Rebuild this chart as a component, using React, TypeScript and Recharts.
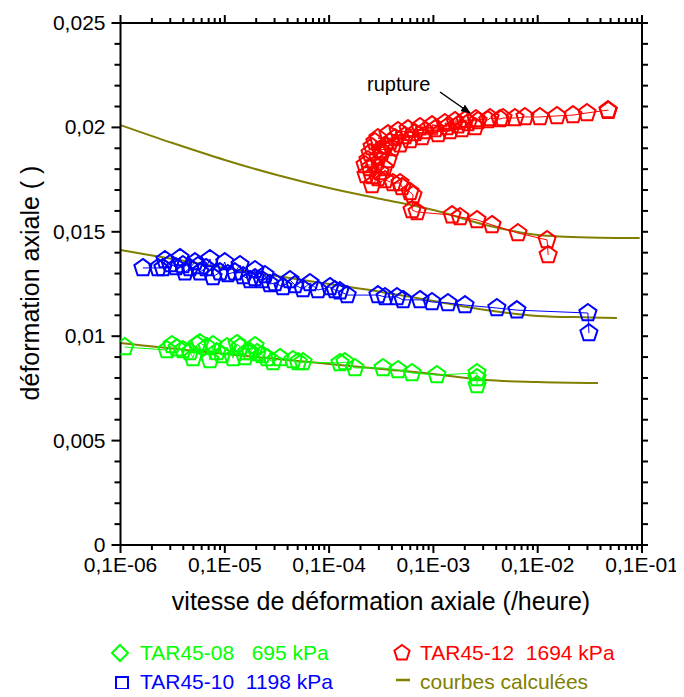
import React from "react";
import { ComposedChart, Scatter, Line, XAxis, YAxis } from "recharts";

const FONT = "'Liberation Sans', Arial, Helvetica, sans-serif";

// TAR45-08 (695 kPa)
const tar08Rate = [2.62e-4, 2.62e-4, 2.62e-4, 1.08e-4, 6.24e-5, 4.58e-5, 3.29e-5, 1.77e-5, 1.42e-5, 1.27e-5, 5.62e-6, 5.04e-6, 4.51e-6, 3.38e-6, 2.9e-6, 2.54e-6, 2.28e-6, 2.04e-6, 1.95e-6, 1.75e-6, 1.63e-6, 1.56e-6, 1.4e-6, 1.31e-6, 1.2e-6, 1.05e-6, 9.4e-7, 8.41e-7, 7.71e-7, 7.21e-7, 6.76e-7, 5.78e-7, 5.41e-7, 4.95e-7, 4.63e-7, 3.97e-7, 3.48e-7, 3.12e-7, 2.79e-7, 1.1e-7];
const tar08Strain = [0.00766, 0.0080, 0.00824, 0.00814, 0.00824, 0.00838, 0.00848, 0.00848, 0.00876, 0.00872, 0.00876, 0.00876, 0.00886, 0.00896, 0.00876, 0.00896, 0.0091, 0.0092, 0.00953, 0.00924, 0.00924, 0.009, 0.00948, 0.00963, 0.00896, 0.00948, 0.0091, 0.00924, 0.00958, 0.00886, 0.00948, 0.00967, 0.00958, 0.00896, 0.00924, 0.00934, 0.00943, 0.00958, 0.00934, 0.00948];

// TAR45-10 (1198 kPa)
const tar10Rate = [3.1e-3, 3.03e-3, 6.32e-4, 4.06e-4, 2.01e-4, 1.38e-4, 9.7e-5, 7.45e-5, 5.12e-5, 4.48e-5, 3.44e-5, 2.94e-5, 1.49e-5, 1.27e-5, 1.14e-5, 1.02e-5, 7.83e-6, 6.56e-6, 5.62e-6, 4.71e-6, 4.22e-6, 3.61e-6, 3.03e-6, 2.71e-6, 2.43e-6, 2.28e-6, 1.95e-6, 1.95e-6, 1.75e-6, 1.5e-6, 1.4e-6, 1.25e-6, 1.07e-6, 1.0e-6, 9.0e-7, 7.71e-7, 7.21e-7, 6.61e-7, 5.78e-7, 5.53e-7, 5.18e-7, 4.63e-7, 4.15e-7, 3.97e-7, 3.72e-7, 3.4e-7, 2.99e-7, 2.67e-7, 2.55e-7, 2.29e-7, 1.64e-7];
const tar10Strain = [0.01015, 0.01111, 0.01125, 0.01135, 0.01149, 0.01159, 0.01164, 0.01174, 0.01174, 0.01188, 0.01188, 0.01197, 0.01197, 0.01216, 0.01221, 0.01236, 0.01221, 0.01255, 0.01226, 0.01245, 0.01269, 0.01236, 0.01255, 0.0125, 0.01293, 0.01269, 0.01279, 0.01317, 0.01269, 0.01288, 0.01341, 0.01307, 0.01298, 0.01355, 0.01307, 0.01284, 0.0137, 0.01327, 0.01307, 0.01336, 0.01355, 0.01327, 0.01307, 0.01341, 0.01375, 0.01331, 0.01346, 0.01365, 0.01327, 0.01327, 0.01327];

// TAR45-12 (1694 kPa)
const tar12Rate = [1.26e-3, 1.23e-3, 6.47e-4, 3.65e-4, 2.62e-4, 1.8e-4, 1.51e-4, 6.97e-5, 6.24e-5, 6.37e-5, 5.97e-5, 5.0e-5, 4.79e-5, 4.1e-5, 3.44e-5, 2.58e-5, 2.94e-5, 2.26e-5, 2.58e-5, 3.08e-5, 3.36e-5, 2.47e-5, 2.21e-5, 2.75e-5, 3.67e-5, 2.36e-5, 2.94e-5, 2.47e-5, 3.21e-5, 3.08e-5, 4.01e-5, 2.58e-5, 3.44e-5, 4.79e-5, 2.75e-5, 3.84e-5, 5.97e-5, 2.94e-5, 4.29e-5, 7.78e-5, 3.67e-5, 5.35e-5, 1.11e-4, 4.58e-5, 6.67e-5, 1.44e-4, 5.71e-5, 8.32e-5, 1.88e-4, 7.45e-5, 1.04e-4, 2.51e-4, 9.7e-5, 1.35e-4, 1.29e-4, 1.72e-4, 1.61e-4, 2.15e-4, 2.01e-4, 2.68e-4, 2.56e-4, 3.33e-4, 3.49e-4, 4.35e-4, 4.65e-4, 6.05e-4, 7.55e-4, 1.05e-3, 1.53e-3, 2.18e-3, 2.97e-3, 4.72e-3, 4.75e-3];
const tar12Strain = [0.01389, 0.01461, 0.01494, 0.01533, 0.01557, 0.01571, 0.0158, 0.01595, 0.01604, 0.01676, 0.01691, 0.01715, 0.01734, 0.01734, 0.01748, 0.01724, 0.01758, 0.01772, 0.01767, 0.01786, 0.01806, 0.01806, 0.0182, 0.0182, 0.01844, 0.01844, 0.01853, 0.01877, 0.01882, 0.01892, 0.01901, 0.01906, 0.01911, 0.0192, 0.0193, 0.0193, 0.0194, 0.01949, 0.01949, 0.01954, 0.01968, 0.01959, 0.01968, 0.01983, 0.01973, 0.01983, 0.01992, 0.01983, 0.01992, 0.02002, 0.01992, 0.02002, 0.02011, 0.02002, 0.02021, 0.02011, 0.02031, 0.02021, 0.02035, 0.02031, 0.0204, 0.02035, 0.02045, 0.0204, 0.02045, 0.02045, 0.0205, 0.0205, 0.02055, 0.02059, 0.02069, 0.02083, 0.0208];

// courbes calculées
const fitRate = [1e-7, 3.16e-7, 1e-6, 3.16e-6, 1e-5, 3.16e-5, 1e-4, 3.16e-4, 1e-3, 3.16e-3];
const fit12End = 9.5e-3;
const fit10End = 5.75e-3;
const fit08End = 3.79e-3;
const fit12Strain = [0.02011, 0.01925, 0.01844, 0.01772, 0.0171, 0.01657, 0.01604, 0.01533, 0.01485, 0.01473, 0.0147];
const fit10Strain = [0.01413, 0.0137, 0.01327, 0.01288, 0.0125, 0.01212, 0.01169, 0.01125, 0.01097, 0.0109, 0.01087];
const fit08Strain = [0.00967, 0.00941, 0.00915, 0.00891, 0.00867, 0.00843, 0.00819, 0.0079, 0.00781, 0.00776];

const xMajorTicks = [1e-7, 1e-6, 1e-5, 1e-4, 1e-3, 1e-2];
const xTickLabels = ["0,1E-06", "0,1E-05", "0,1E-04", "0,1E-03", "0,1E-02", "0,1E-01"];
const yMajorTicks = [0, 0.005, 0.01, 0.015, 0.02, 0.025];
const yTickLabels = ["0", "0,005", "0,01", "0,015", "0,02", "0,025"];

const xMinorTicks: number[] = [];
for (let d = 0; d < 5; d++) for (let m = 2; m <= 9; m++) xMinorTicks.push(m * xMajorTicks[d]);
const xAllTicks = [...xMajorTicks, ...xMinorTicks].sort((a, b) => a - b);
const yAllTicks: number[] = [];
for (let i = 0; i <= 25; i++) yAllTicks.push(i / 1000);

const GREEN = "#00ff00";
const BLUE = "#0000ff";
const RED = "#ff0000";
const OLIVE = "#808000";

const pts = (xs: number[], ys: number[]) => ys.map((y, i) => ({ x: xs[i], y }));

const xIdx = (v: number) => xMajorTicks.findIndex((m) => Math.abs(Math.log10(v) - Math.log10(m)) < 1e-6);
const yIdx = (v: number) => yMajorTicks.findIndex((m) => Math.abs(v - m) < 1e-9);

const BottomTick = (p: any) => {
  const i = xIdx(p.payload.value);
  return (
    <g>
      <line x1={p.x} x2={p.x} y1={p.y} y2={p.y + (i >= 0 ? 8 : 5)} stroke="#000" strokeWidth={2} />
      {i >= 0 && (
        <text x={p.x} y={p.y + 27} textAnchor="middle" fontSize={21} fontFamily={FONT} fill="#000">
          {xTickLabels[i]}
        </text>
      )}
    </g>
  );
};

const TopTick = (p: any) => {
  const i = xIdx(p.payload.value);
  return <line x1={p.x} x2={p.x} y1={p.y} y2={p.y - (i >= 0 ? 8 : 5)} stroke="#000" strokeWidth={2} />;
};

const LeftTick = (p: any) => {
  const i = yIdx(p.payload.value);
  return (
    <g>
      <line x1={p.x} x2={p.x - (i >= 0 ? 9 : 6)} y1={p.y} y2={p.y} stroke="#000" strokeWidth={2} />
      {i >= 0 && (
        <text x={p.x - 15} y={p.y + 7} textAnchor="end" fontSize={21} fontFamily={FONT} fill="#000">
          {yTickLabels[i]}
        </text>
      )}
    </g>
  );
};

const RightTick = (p: any) => <line x1={p.x} x2={p.x + 6} y1={p.y} y2={p.y} stroke="#000" strokeWidth={2} />;

const pentagonPoints = (cx: number, cy: number, r: number) =>
  [0, 1, 2, 3, 4]
    .map((k) => {
      const a = -Math.PI / 2 + (k * 2 * Math.PI) / 5;
      return `${cx + r * Math.cos(a)},${cy + r * Math.sin(a)}`;
    })
    .join(" ");

const pentagon = (color: string) => (props: any) => {
  if (props.cx == null || props.cy == null) return <g />;
  return <polygon points={pentagonPoints(props.cx, props.cy, 9)} fill="none" stroke={color} strokeWidth={2} />;
};

const axisStyle = { stroke: "#000", strokeWidth: 2, strokeLinecap: "square" as const };

export default function App() {
  const labelStyle: React.CSSProperties = {
    position: "absolute",
    fontFamily: FONT,
    fontSize: 21,
    whiteSpace: "pre",
    lineHeight: "22px",
  };
  return (
    <div style={{ position: "relative", width: 676, height: 681, fontFamily: FONT }}>
      <ComposedChart width={676} height={620} margin={{ top: 0, right: 0, bottom: 0, left: 0 }}>
        <XAxis
          xAxisId="b"
          dataKey="x"
          type="number"
          scale="log"
          domain={[1e-7, 1e-2]}
          allowDataOverflow
          ticks={xAllTicks}
          interval={0}
          tick={<BottomTick />}
          tickLine={false}
          tickSize={0}
          tickMargin={0}
          axisLine={axisStyle}
          height={83}
        />
        <XAxis
          xAxisId="t"
          orientation="top"
          dataKey="x"
          type="number"
          scale="log"
          domain={[1e-7, 1e-2]}
          allowDataOverflow
          ticks={xAllTicks}
          interval={0}
          tick={<TopTick />}
          tickLine={false}
          tickSize={0}
          tickMargin={0}
          axisLine={axisStyle}
          height={15}
        />
        <YAxis
          yAxisId="l"
          dataKey="y"
          type="number"
          domain={[0, 0.025]}
          allowDataOverflow
          ticks={yAllTicks}
          interval={0}
          tick={<LeftTick />}
          tickLine={false}
          tickSize={0}
          tickMargin={0}
          axisLine={axisStyle}
          width={112.5}
        />
        <YAxis
          yAxisId="r"
          orientation="right"
          dataKey="y"
          type="number"
          domain={[0, 0.025]}
          allowDataOverflow
          ticks={yAllTicks}
          interval={0}
          tick={<RightTick />}
          tickLine={false}
          tickSize={0}
          tickMargin={0}
          axisLine={axisStyle}
          width={42}
        />
        <Scatter
          xAxisId="b"
          yAxisId="l"
          data={pts(tar08Rate, tar08Strain)}
          dataKey="y"
          shape={pentagon(GREEN)}
          line={{ stroke: GREEN, strokeWidth: 1 }}
          lineType="joint"
          isAnimationActive={false}
        />
        <Scatter
          xAxisId="b"
          yAxisId="l"
          data={pts(tar10Rate, tar10Strain)}
          dataKey="y"
          shape={pentagon(BLUE)}
          line={{ stroke: BLUE, strokeWidth: 1 }}
          lineType="joint"
          isAnimationActive={false}
        />
        <Scatter
          xAxisId="b"
          yAxisId="l"
          data={pts(tar12Rate, tar12Strain)}
          dataKey="y"
          shape={pentagon(RED)}
          line={{ stroke: RED, strokeWidth: 1 }}
          lineType="joint"
          isAnimationActive={false}
        />
        <Line
          xAxisId="b"
          yAxisId="l"
          data={pts([...fitRate, fit12End], fit12Strain)}
          dataKey="y"
          type="monotone"
          stroke={OLIVE}
          strokeWidth={2}
          dot={false}
          isAnimationActive={false}
        />
        <Line
          xAxisId="b"
          yAxisId="l"
          data={pts([...fitRate, fit10End], fit10Strain)}
          dataKey="y"
          type="monotone"
          stroke={OLIVE}
          strokeWidth={2}
          dot={false}
          isAnimationActive={false}
        />
        <Line
          xAxisId="b"
          yAxisId="l"
          data={pts([...fitRate.slice(0, 9), fit08End], fit08Strain)}
          dataKey="y"
          type="monotone"
          stroke={OLIVE}
          strokeWidth={2}
          dot={false}
          isAnimationActive={false}
        />
      </ComposedChart>

      <svg width={676} height={620} style={{ position: "absolute", left: 0, top: 0, pointerEvents: "none" }}>
        <defs>
          <marker id="arrowhead" markerWidth="10" markerHeight="8" refX="9" refY="4" orient="auto" markerUnits="userSpaceOnUse">
            <path d="M0,0 L10,4 L0,8 Z" fill="#000" />
          </marker>
        </defs>
        <text x={359} y={83} fontSize={20} fontFamily={FONT} fill="#000">rupture</text>
        <line x1={432} y1={84} x2={462} y2={105} stroke="#000" strokeWidth={1.5} markerEnd="url(#arrowhead)" />
        <text x={373} y={602} textAnchor="middle" fontSize={25} fontFamily={FONT} fill="#000">
          vitesse de déformation axiale (/heure)
        </text>
        <text
          x={22}
          y={275}
          textAnchor="middle"
          dominantBaseline="central"
          transform="rotate(-90 22 275)"
          fontSize={25}
          fontFamily={FONT}
          fill="#000"
        >
          déformation axiale ( )
        </text>
      </svg>

      <svg width={20} height={20} style={{ position: "absolute", left: 102, top: 635 }}>
        <polygon points="10,2 18,10 10,18 2,10" fill="none" stroke={GREEN} strokeWidth={2} />
      </svg>
      <div style={{ ...labelStyle, left: 132, top: 634, color: GREEN }}>{"TAR45-08   695 kPa"}</div>

      <svg width={20} height={20} style={{ position: "absolute", left: 104, top: 665 }}>
        <rect x={4} y={4} width={12} height={12} fill="none" stroke={BLUE} strokeWidth={2} />
      </svg>
      <div style={{ ...labelStyle, left: 132, top: 663, color: BLUE }}>{"TAR45-10  1198 kPa"}</div>

      <svg width={20} height={20} style={{ position: "absolute", left: 384, top: 634 }}>
        <polygon points={pentagonPoints(10, 11, 8)} fill="none" stroke={RED} strokeWidth={2} />
      </svg>
      <div style={{ ...labelStyle, left: 412, top: 634, color: RED }}>{"TAR45-12  1694 kPa"}</div>

      <svg width={20} height={20} style={{ position: "absolute", left: 385, top: 662 }}>
        <line x1={3} x2={17} y1={10} y2={10} stroke={OLIVE} strokeWidth={2.5} />
      </svg>
      <div style={{ ...labelStyle, left: 412, top: 663, color: OLIVE }}>{"courbes calculées"}</div>
    </div>
  );
}
